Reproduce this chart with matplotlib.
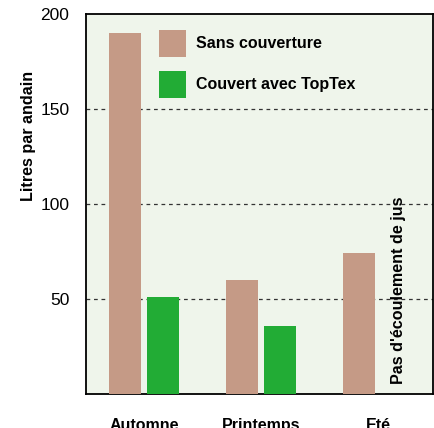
import matplotlib
matplotlib.use("Agg")
import matplotlib.pyplot as plt
import numpy as np

categories = ["Automne", "Printemps", "Eté"]
sans_couverture = [190, 60, 74]
couvert_toptex = [51, 36, 0]
series_labels = ["Sans couverture", "Couvert avec TopTex"]
yticks = [50, 100, 150, 200]

plt.rcParams['font.family'] = ['Liberation Sans', 'DejaVu Sans']

fig = plt.figure(figsize=(4.34, 4.28), dpi=100)
ax = fig.add_axes([86/434, 1 - 394/428, 347/434, 380/428])
ax.set_facecolor('#EFF5EB')

x = np.arange(len(categories))
w = 0.274
off = 0.162
brown = '#C59A86'
green = '#22AC35'
ax.bar(x[:] - off, sans_couverture, w, color=brown, label=series_labels[0], zorder=3)
ax.bar(x[:2] + off, couvert_toptex[:2], w, color=green, label=series_labels[1], zorder=3)

ax.text(x[2] + off + 0.01, 5.5, "Pas d'écoulement de jus", rotation=90, ha='center', va='bottom',
        fontsize=11.6, fontweight='bold', zorder=4)

ax.set_ylim(0, 200)
ax.set_xlim(-0.496, 2.47)
ax.set_yticks(yticks)
ax.set_yticklabels([str(v) for v in yticks], fontsize=12.5)
for v in yticks[:-1]:
    ax.axhline(v, color='#333333', lw=0.9, ls=(0, (3, 3)), zorder=1)
ax.tick_params(axis='y', length=0, pad=12)
ax.set_xticks(x)
ax.set_xticklabels(categories, fontsize=11.5, fontweight='bold')
ax.tick_params(axis='x', length=0, pad=17)
for s in ax.spines.values():
    s.set_linewidth(1.3)
    s.set_color('black')

ax.set_ylabel("Litres par andain", fontsize=11.6, fontweight='bold')
ax.yaxis.set_label_coords(-0.143, 0.68)

leg = ax.legend(loc='upper left', bbox_to_anchor=(0.21, 0.958), frameon=False,
                borderpad=0, borderaxespad=0, handlelength=1.69, handleheight=2.22,
                labelspacing=0.87, handletextpad=0.62,
                prop={'size': 11.5, 'weight': 'bold'})

fig.savefig("out.png", dpi=100)
